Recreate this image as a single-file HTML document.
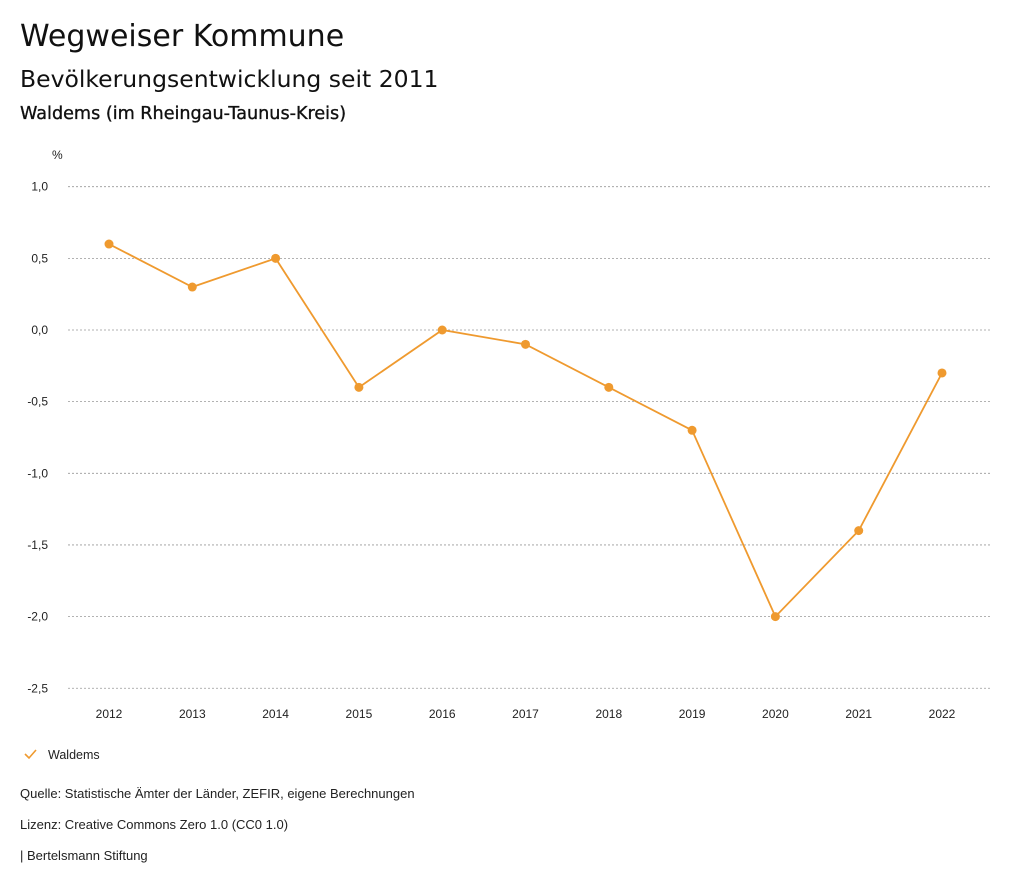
<!DOCTYPE html>
<html><head><meta charset="utf-8">
<style>
body{margin:0;width:1024px;height:888px;background:#fff;font-family:"Liberation Sans",sans-serif;color:#111;overflow:hidden;position:relative}
.t{position:absolute;white-space:nowrap;font-family:"DejaVu Sans",sans-serif}
</style></head><body>
<div class="t" style="left:20px;top:19px;font-size:30px">Wegweiser Kommune</div>
<div class="t" style="left:20px;top:65px;font-size:23.5px">Bevölkerungsentwicklung seit 2011</div>
<div class="t" style="left:20px;top:104px;font-size:17.6px;-webkit-text-stroke:0.35px #111">Waldems (im Rheingau-Taunus-Kreis)</div>
<svg id="chart" width="1024" height="888" style="position:absolute;left:0;top:0" font-family="Liberation Sans, sans-serif">
<text x="52" y="159" font-size="12" fill="#222">%</text>
<g id="grid"></g><g id="xt"></g><g id="ln"></g>
<g>
<path d="M25 754 l4 4 l7 -8" stroke="#ef9a2f" stroke-width="1.6" fill="none"/>
<text x="48" y="759" font-size="12.5" fill="#222">Waldems</text></g>
<text x="20" y="798" font-size="13" fill="#222">Quelle: Statistische Ämter der Länder, ZEFIR, eigene Berechnungen</text>
<text x="20" y="829" font-size="13" fill="#222">Lizenz: Creative Commons Zero 1.0 (CC0 1.0)</text>
<text x="20" y="860" font-size="13" fill="#222">| Bertelsmann Stiftung</text>
</svg>
<script>
const years=["2012","2013","2014","2015","2016","2017","2018","2019","2020","2021","2022"];
const values=[0.6,0.3,0.5,-0.4,0.0,-0.1,-0.4,-0.7,-2.0,-1.4,-0.3];
const yTicks=[1.0,0.5,0.0,-0.5,-1.0,-1.5,-2.0,-2.5];
const yLabels=["1,0","0,5","0,0","-0,5","-1,0","-1,5","-2,0","-2,5"];
const NS="http://www.w3.org/2000/svg";
const y=v=>330-v*143.3;
const x=i=>109+i*83.3;
function mk(t,a,p){const e=document.createElementNS(NS,t);for(const k in a)e.setAttribute(k,a[k]);p.appendChild(e);return e;}
const g=document.getElementById('grid');
yTicks.forEach((v,i)=>{
 const l=mk('line',{x1:68,x2:990,y1:y(v),y2:y(v),stroke:'#999','stroke-dasharray':'2,2','stroke-width':0.8},g);
 
 
 const t=mk('text',{x:48,y:y(v)+4,'font-size':12,fill:'#222','text-anchor':'end'},g);
 t.textContent=yLabels[i];
 
 
});
const xt=document.getElementById('xt');
years.forEach((yr,i)=>{
 const t=mk('text',{x:x(i),y:718,'font-size':12,fill:'#222','text-anchor':'middle'},xt);
 t.textContent=yr;
 
 
});
const ln=document.getElementById('ln');
const p=mk('polyline',{points:values.map((v,i)=>x(i)+','+y(v)).join(' '),fill:'none',stroke:'#ef9a2f','stroke-width':1.8},ln);


values.forEach((v,i)=>{
 const c=mk('circle',{cx:x(i),cy:y(v),r:4.5,fill:'#ef9a2f'},ln);
 
 
});
</script>
</body></html>
